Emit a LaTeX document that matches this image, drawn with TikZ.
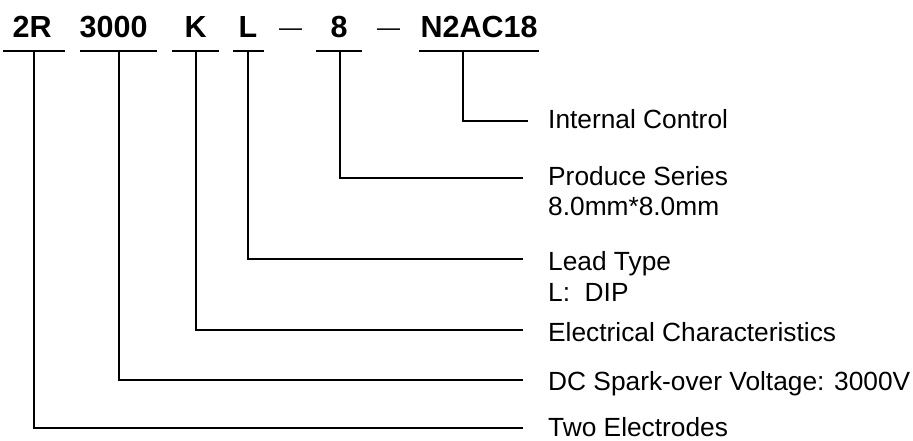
\documentclass[tikz,border=0pt]{standalone}
\usepackage{fontspec}
\setmainfont{Liberation Sans}
\begin{document}
\begin{tikzpicture}[x=1pt,y=-1pt,
  code/.style={anchor=base west,inner sep=0pt,font=\fontsize{30.5}{34}\selectfont\bfseries},
  sep/.style={anchor=base west,inner sep=0pt,font=\fontsize{23}{26}\selectfont},
  desc/.style={anchor=base west,inner sep=0pt,font=\fontsize{26.3}{30}\selectfont},
  ln/.style={line width=1.5pt,line cap=butt}]
\useasboundingbox (0,0) rectangle (913,440);
% code parts
\node[code] (c2R) at (12.5,37) {2R};
\node[code] (c3000) at (79.5,37) {3000};
\node[code] (cK) at (184.5,37) {K};
\node[code] (cL) at (238.5,37) {L};
\node[sep] (s1) at (279,35) {—};
\node[code] (c8) at (330.5,37) {8};
\node[sep] (s2) at (377,35) {—};
\node[code] (cN) at (420.5,37) {N2AC18};
% underlines
\coordinate (a1) at (3,51);   \coordinate (b1) at (65,51);
\coordinate (a2) at (80,51);  \coordinate (b2) at (157,51);
\coordinate (a3) at (172,51); \coordinate (b3) at (219,51);
\coordinate (a4) at (233,51); \coordinate (b4) at (264,51);
\coordinate (a5) at (316,51); \coordinate (b5) at (362,51);
\coordinate (a6) at (419,51); \coordinate (b6) at (539,51);
\draw[ln] (a1) -- (b1); \draw[ln] (a2) -- (b2); \draw[ln] (a3) -- (b3);
\draw[ln] (a4) -- (b4); \draw[ln] (a5) -- (b5); \draw[ln] (a6) -- (b6);
% drop points
\coordinate (d1) at (34,51);
\coordinate (d2) at (119,51);
\coordinate (d3) at (196,51);
\coordinate (d4) at (248,51);
\coordinate (d5) at (340,51);
\coordinate (d6) at (463,51);
% line ends
\coordinate (e6) at (528,121);
\coordinate (e5) at (523,178);
\coordinate (e4) at (523,259);
\coordinate (e3) at (523,330);
\coordinate (e2) at (523,380);
\coordinate (e1) at (523,428);
% descriptions
\node[desc] (t6) at (548,128) {Internal Control};
\node[desc] (t5) at (548,185) {Produce Series};
\node[desc] (t5b) at (548,215) {8.0mm*8.0mm};
\node[desc] (t4) at (548,270) {Lead Type};
\node[desc] (t4b) at (548,301) {L:~~DIP};
\node[desc] (t3) at (548,341) {Electrical Characteristics};
\node[desc] (t2) at (548,390) {DC Spark-over Voltage: 3000V};
\node[desc] (t1) at (548,436) {Two Electrodes};
% connectors
\draw[ln] (d6) |- (e6);
\draw[ln] (d5) |- (e5);
\draw[ln] (d4) |- (e4);
\draw[ln] (d3) |- (e3);
\draw[ln] (d2) |- (e2);
\draw[ln] (d1) |- (e1);
\end{tikzpicture}
\end{document}
